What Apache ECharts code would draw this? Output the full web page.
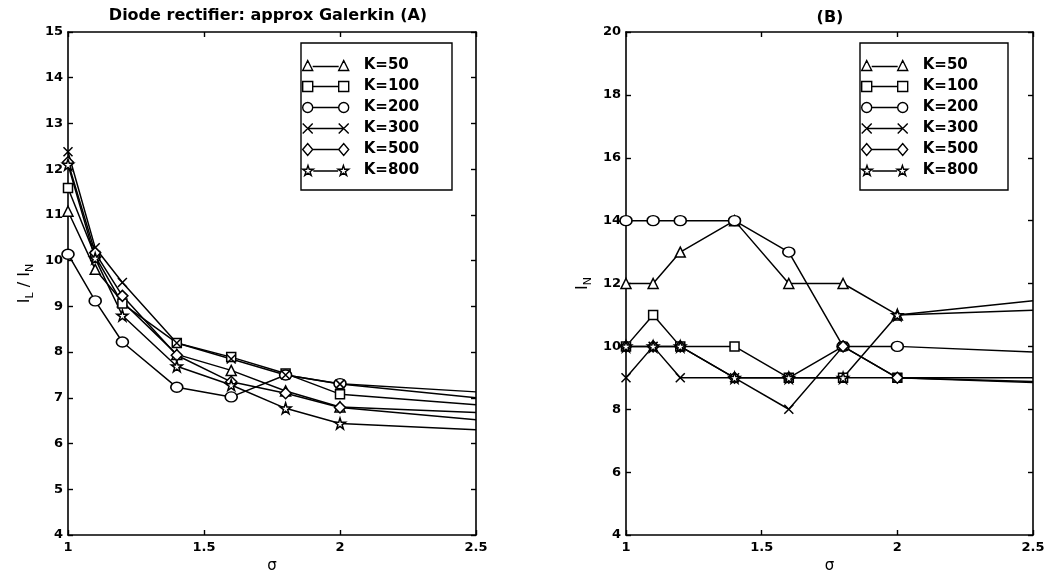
<!DOCTYPE html>
<html><head><meta charset="utf-8">
<script src="https://cdn.jsdelivr.net/npm/echarts@6/dist/echarts.min.js"></script>
<style>html,body{margin:0;padding:0;background:#fff}#c{width:1049px;height:573px}</style>
</head><body><div id="c"></div>
<script>
// sigma values (last point 2.5 is the line end, drawn without marker)
const sigma = [1, 1.1, 1.2, 1.4, 1.6, 1.8, 2, 2.5];
const seriesNames = ['K=50', 'K=100', 'K=200', 'K=300', 'K=500', 'K=800'];

// Panel A: I_L / I_N
const ratioK50  = [11.08, 9.81, 9.10, 7.95, 7.60, 7.15, 6.80, 6.68];
const ratioK100 = [11.59, 10.10, 9.06, 8.20, 7.89, 7.53, 7.08, 6.85];
const ratioK200 = [10.14, 9.12, 8.22, 7.23, 7.02, 7.50, 7.31, 7.13];
const ratioK300 = [12.38, 10.28, 9.52, 8.20, 7.85, 7.50, 7.30, 7.00];
const ratioK500 = [12.15, 10.17, 9.23, 7.93, 7.35, 7.10, 6.79, 6.52];
const ratioK800 = [12.10, 10.05, 8.80, 7.69, 7.28, 6.77, 6.44, 6.30];

// Panel B: I_N
const nK50  = [12, 12, 13, 14, 12, 12, 11, 11.45];
const nK100 = [10, 11, 10, 10, 9, 9, 9, 8.85];
const nK200 = [14, 14, 14, 14, 13, 10, 10, 9.82];
const nK300 = [9, 10, 9, 9, 8, 10, 9, 9.0];
const nK500 = [10, 10, 10, 9, 9, 10, 9, 8.88];
const nK800 = [10, 10, 10, 9, 9, 9, 11, 11.15];

// Axis ticks
const xTicksMin = 1, xTicksMax = 2.5, xTickStep = 0.5;
const yA_min = 4, yA_max = 15, yA_step = 1;
const yB_min = 4, yB_max = 20, yB_step = 2;

const FONT = 'DejaVu Sans';
const STAR = 'path://M10,0L12.245,6.91L19.511,6.91L13.633,11.18L15.878,18.09L10,13.82L4.122,18.09L6.367,11.18L0.489,6.91L7.755,6.91Z';
const CROSS = 'path://M0,0L10,10M10,0L0,10';
const symbols = [
  {symbol: 'triangle', size: 10},
  {symbol: 'rect', size: 9},
  {symbol: 'circle', size: [12, 10]},
  {symbol: CROSS, size: 9},
  {symbol: 'diamond', size: 11},
  {symbol: STAR, size: 11}
];
// legend samples: marker - line - marker
const legendIcons = [
  'path://M0,11L5,1L10,11ZM36,11L41,1L46,11ZM10,7H36',
  'path://M0,1H10V11H0ZM36,1H46V11H36ZM10,6H36',
  'path://M0,6A5,5 0 1,0 10,6A5,5 0 1,0 0,6ZM36,6A5,5 0 1,0 46,6A5,5 0 1,0 36,6ZM10,6H36',
  'path://M0,1L10,11M10,1L0,11M36,1L46,11M46,1L36,11M5,6H41',
  'path://M0,6L5,0L10,6L5,12ZM36,6L41,0L46,6L41,12ZM10,6H36',
  'path://M5.5,0L6.73,3.8L10.73,3.8L7.5,6.15L8.73,9.95L5.5,7.6L2.27,9.95L3.5,6.15L0.27,3.8L4.27,3.8ZM40.5,0L41.73,3.8L45.73,3.8L42.5,6.15L43.73,9.95L40.5,7.6L37.27,9.95L38.5,6.15L35.27,3.8L39.27,3.8ZM10.7,5.5H35.3'
];

const panelA = [ratioK50, ratioK100, ratioK200, ratioK300, ratioK500, ratioK800];
const panelB = [nK50, nK100, nK200, nK300, nK500, nK800];

function buildData(vals) {
  return vals.map((v, i) => {
    const p = [sigma[i], v];
    return i === sigma.length - 1 ? {value: p, symbol: 'none'} : p;
  });
}

const series = [];
[panelA, panelB].forEach((panel, g) => {
  panel.forEach((vals, k) => {
    series.push({
      name: seriesNames[k],
      type: 'line',
      xAxisIndex: g * 2,
      yAxisIndex: g * 2,
      data: buildData(vals),
      symbol: symbols[k].symbol,
      symbolSize: symbols[k].size,
      showAllSymbol: true,
      animation: false,
      lineStyle: {color: '#000', width: 1.5},
      itemStyle: {color: '#fff', borderColor: '#000', borderWidth: 1.5},
      emphasis: {disabled: true}
    });
  });
});

const axisLineStyle = {show: true, lineStyle: {color: '#000', width: 1.6}};
const tickStyle = {show: true, inside: true, length: 5, lineStyle: {color: '#000', width: 1.4}};
const labelStyle = {color: '#000', fontFamily: FONT, fontSize: 13, fontWeight: 'bold'};

function xAxes(grid) {
  return [
    {gridIndex: grid, type: 'value', position: 'bottom', min: xTicksMin, max: xTicksMax, interval: xTickStep,
     axisLine: axisLineStyle, axisTick: tickStyle, splitLine: {show: false},
     axisLabel: Object.assign({margin: 6, formatter: v => String(v)}, labelStyle),
     name: 'σ', nameLocation: 'middle', nameGap: 22,
     nameTextStyle: {color: '#000', fontFamily: FONT, fontSize: 15}},
    {gridIndex: grid, type: 'value', position: 'top', min: xTicksMin, max: xTicksMax, interval: xTickStep,
     axisLine: axisLineStyle, axisTick: tickStyle, splitLine: {show: false}, axisLabel: {show: false}}
  ];
}
function yAxes(grid, mn, mx, st, name, gap) {
  return [
    {gridIndex: grid, type: 'value', position: 'left', min: mn, max: mx, interval: st,
     axisLine: axisLineStyle, axisTick: tickStyle, splitLine: {show: false},
     axisLabel: Object.assign({margin: 5}, labelStyle),
     name: name, nameLocation: 'middle', nameGap: gap, nameRotate: 90,
     nameTextStyle: {color: '#000', fontFamily: FONT,
       rich: {m: {fontSize: 16, lineHeight: 22, fontFamily: FONT, color: '#000'},
              s: {fontSize: 11, lineHeight: 11, verticalAlign: 'bottom', fontFamily: FONT, color: '#000'}}}},
    {gridIndex: grid, type: 'value', position: 'right', min: mn, max: mx, interval: st,
     axisLine: axisLineStyle, axisTick: tickStyle, splitLine: {show: false}, axisLabel: {show: false}}
  ];
}

function legend(left) {
  return {
    orient: 'vertical', left: left, top: 58, padding: 0, itemWidth: 46, itemHeight: 12, itemGap: 6,
    selectedMode: false,
    data: seriesNames.map((n, k) => ({name: n, icon: legendIcons[k]})),
    itemStyle: {color: '#fff', borderColor: '#000', borderWidth: 1.4},
    textStyle: {color: '#000', fontFamily: FONT, fontSize: 15, fontWeight: 'bold', lineHeight: 14, padding: [0, 0, 0, 10]}
  };
}

const chart = echarts.init(document.getElementById('c'), null, {renderer: 'canvas'});
chart.setOption({
  animation: false,
  backgroundColor: '#fff',
  grid: [
    {left: 68, right: 573, top: 32, bottom: 38, outerBoundsMode: 'none', containLabel: false},
    {left: 626, right: 16, top: 32, bottom: 38, outerBoundsMode: 'none', containLabel: false}
  ],
  xAxis: [...xAxes(0), ...xAxes(1)],
  yAxis: [...yAxes(0, yA_min, yA_max, yA_step, '{m|I}{s|L}{m| / I}{s|N}', 32),
          ...yAxes(1, yB_min, yB_max, yB_step, '{m|I}{s|N}', 32)],
  legend: [legend(302), legend(861)],
  graphic: [
    {type: 'rect', shape: {x: 301, y: 43, width: 151, height: 147}, style: {fill: null, stroke: '#000', lineWidth: 1.4}, z: 100},
    {type: 'rect', shape: {x: 860, y: 43, width: 148, height: 147}, style: {fill: null, stroke: '#000', lineWidth: 1.4}, z: 100},
    {type: 'text', x: 268, y: 16, style: {text: 'Diode rectifier: approx Galerkin (A)', align: 'center', verticalAlign: 'middle', font: 'bold 16px "DejaVu Sans"', fill: '#000'}},
    {type: 'text', x: 830, y: 18, style: {text: '(B)', align: 'center', verticalAlign: 'middle', font: 'bold 16px "DejaVu Sans"', fill: '#000'}}
  ],
  series: series
});
</script>
</body></html>
